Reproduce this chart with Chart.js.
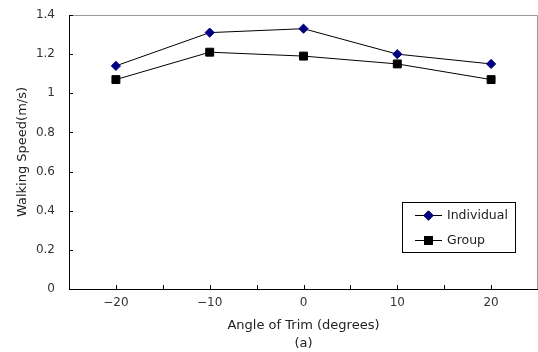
<!DOCTYPE html>
<html>
<head>
<meta charset="utf-8">
<script src="https://cdn.jsdelivr.net/npm/chart.js@4/dist/chart.umd.min.js"></script>
<style>
  html, body { margin: 0; padding: 0; background: #fff; }
  #wrap { width: 538px; height: 352px; }
</style>
</head>
<body>
<div id="wrap"><canvas id="chart" width="538" height="352"></canvas></div>
<script>
// данные
const angles = [-20, -10, 0, 10, 20];
const individual = [1.14, 1.31, 1.33, 1.20, 1.15];
const group = [1.07, 1.21, 1.19, 1.15, 1.07];
const xTickLabels = [-20, -10, 0, 10, 20];
const yTickLabels = [0, 0.2, 0.4, 0.6, 0.8, 1, 1.2, 1.4];

const FONT = '"DejaVu Sans", "Liberation Sans", sans-serif';

function toPoints(xs, ys) {
  return xs.map((x, i) => ({ x: x, y: ys[i] }));
}

// рамка, внутренние засечки и легенда
const framePlugin = {
  id: 'frame',
  afterDraw(chart) {
    const ctx = chart.ctx;
    const a = chart.chartArea;
    const xs = chart.scales.x, ys = chart.scales.y;
    ctx.save();
    ctx.strokeStyle = '#999';
    ctx.lineWidth = 1;
    ctx.beginPath();
    ctx.moveTo(a.left, a.top + 0.5);
    ctx.lineTo(a.right - 0.5, a.top + 0.5);
    ctx.lineTo(a.right - 0.5, a.bottom);
    ctx.stroke();

    ctx.strokeStyle = '#000';
    ctx.beginPath();
    for (let v = -20; v <= 20; v += 5) {
      const px = Math.round(xs.getPixelForValue(v)) + 0.5;
      ctx.moveTo(px, a.bottom);
      ctx.lineTo(px, a.bottom - 4);
    }
    yTickLabels.forEach(v => {
      const py = Math.round(ys.getPixelForValue(v)) + 0.5;
      ctx.moveTo(a.left, py);
      ctx.lineTo(a.left + 4, py);
    });
    ctx.stroke();

    // легенда
    const bx = 402.5, by = 202.5, bw = 113, bh = 50;
    ctx.fillStyle = '#fff';
    ctx.fillRect(bx, by, bw, bh);
    ctx.strokeStyle = '#000';
    ctx.strokeRect(bx, by, bw, bh);
    ctx.font = '12.5px ' + FONT;
    ctx.textBaseline = 'middle';
    chart.data.datasets.forEach((ds, i) => {
      const cy = 215 + i * 25;
      ctx.strokeStyle = ds.borderColor;
      ctx.beginPath();
      ctx.moveTo(415, cy + 0.5);
      ctx.lineTo(442, cy + 0.5);
      ctx.stroke();
      Chart.helpers.drawPoint(ctx, {
        pointStyle: ds.pointStyle, radius: ds.pointRadius, borderWidth: 1
      }, 428.5, cy + 0.5);
      ctx.fillStyle = ds.pointBackgroundColor;
      ctx.strokeStyle = ds.pointBorderColor;
      ctx.fill();
      ctx.stroke();
      ctx.fillStyle = '#222';
      ctx.fillText(ds.label, 447, cy + 1);
    });
    ctx.restore();
  }
};

new Chart(document.getElementById('chart'), {
  type: 'line',
  data: {
    datasets: [{
      label: 'Individual',
      data: toPoints(angles, individual),
      borderColor: '#000',
      borderWidth: 1,
      pointStyle: 'rectRot',
      pointRadius: 4.6,
      pointBackgroundColor: '#000080',
      pointBorderColor: '#000080',
      pointBorderWidth: 1
    }, {
      label: 'Group',
      data: toPoints(angles, group),
      borderColor: '#000',
      borderWidth: 1,
      pointStyle: 'rect',
      pointRadius: 5.6,
      pointBackgroundColor: '#000',
      pointBorderColor: '#000',
      pointBorderWidth: 1
    }]
  },
  options: {
    responsive: false,
    animation: false,
    layout: { autoPadding: false, padding: { top: 15, right: 0, left: 0, bottom: 0 } },
    plugins: { legend: { display: false }, tooltip: { enabled: false } },
    scales: {
      x: {
        type: 'linear',
        min: -25, max: 25,
        afterFit(s) { s.height = 63; s.paddingLeft = 0; s.paddingRight = 0; },
        afterBuildTicks(s) { s.ticks = xTickLabels.map(v => ({ value: v })); },
        grid: { display: false, drawTicks: false },
        border: { display: true, color: '#000', width: 1 },
        ticks: {
          padding: 7, color: '#333', font: { family: FONT, size: 12 },
          callback: v => String(v).replace('-', '\u2212')
        },
        title: {
          display: true,
          text: ['Angle of Trim (degrees)', '(a)'],
          color: '#222',
          padding: { top: 6, bottom: 0 },
          font: { family: FONT, size: 13, lineHeight: 1.35 }
        }
      },
      y: {
        min: 0, max: 1.4,
        afterFit(s) { s.width = 69; s.paddingTop = 0; s.paddingBottom = 0; },
        afterBuildTicks(s) { s.ticks = yTickLabels.map(v => ({ value: v })); },
        grid: { display: false, drawTicks: false },
        border: { display: true, color: '#000', width: 1 },
        ticks: {
          padding: 14, color: '#333', font: { family: FONT, size: 12 },
          callback: v => String(v)
        },
        title: {
          display: true,
          text: 'Walking Speed(m/s)',
          color: '#222',
          padding: { top: 15, bottom: 0 },
          font: { family: FONT, size: 13 }
        }
      }
    }
  },
  plugins: [framePlugin]
});
</script>
</body>
</html>
